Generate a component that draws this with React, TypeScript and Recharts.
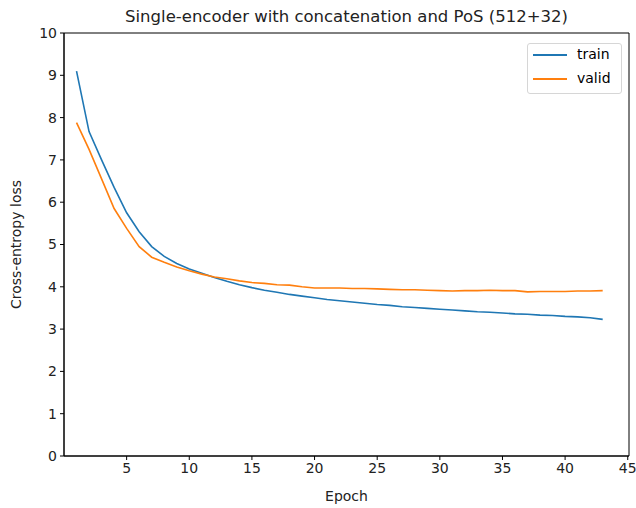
import React from "react";
import { LineChart, Line, XAxis, YAxis, ReferenceArea } from "recharts";

const epochs = Array.from({ length: 43 }, (_, i) => i + 1);
const trainLoss = [
  9.1, 7.67, 7.0, 6.35, 5.75, 5.3, 4.95, 4.72, 4.55, 4.42,
  4.32, 4.22, 4.13, 4.05, 3.98, 3.92, 3.87, 3.82, 3.78, 3.74,
  3.7, 3.67, 3.64, 3.61, 3.58, 3.56, 3.53, 3.51, 3.49, 3.47,
  3.45, 3.43, 3.41, 3.4, 3.38, 3.36, 3.35, 3.33, 3.32, 3.3,
  3.29, 3.27, 3.23,
];
const validLoss = [
  7.88, 7.25, 6.55, 5.85, 5.38, 4.95, 4.7, 4.58, 4.47, 4.38,
  4.3, 4.23, 4.19, 4.14, 4.1, 4.08, 4.05, 4.04, 4.0, 3.97,
  3.97, 3.97, 3.96, 3.96, 3.95, 3.94, 3.93, 3.93, 3.92, 3.91,
  3.9, 3.91, 3.91, 3.92, 3.91, 3.91, 3.88, 3.89, 3.89, 3.89,
  3.9, 3.9, 3.91,
];
const xTicks = [5, 10, 15, 20, 25, 30, 35, 40, 45];
const yTicks = [0, 1, 2, 3, 4, 5, 6, 7, 8, 9, 10];
const seriesNames = ["train", "valid"];
const seriesColors = ["#1f77b4", "#ff7f0e"];

const data = epochs.map((e, i) => ({ epoch: e, train: trainLoss[i], valid: validLoss[i] }));

const FONT = "'DejaVu Sans', sans-serif";
const X_MAX = 45.1;

const LegendBox = () => (
  <div
    style={{
      position: "absolute",
      left: 527,
      top: 43,
      width: 95,
      height: 51,
      border: "1px solid #d6d6d6",
      borderRadius: 3,
      background: "rgba(255,255,255,0.8)",
      fontFamily: FONT,
      fontSize: 14,
      color: "#000",
      boxSizing: "border-box",
    }}
  >
    {seriesNames.map((name, i) => {
      const top = i === 0 ? 11 : 35;
      return (
        <div key={name}>
          <div
            style={{
              position: "absolute",
              left: 5,
              top: top - 1,
              width: 34,
              height: 2,
              background: seriesColors[i],
            }}
          />
          <div style={{ position: "absolute", left: 49, top: top - 10, lineHeight: "18px" }}>{name}</div>
        </div>
      );
    })}
  </div>
);

export default function App() {
  return (
    <div style={{ position: "absolute", left: 0, top: 0, width: 636, height: 508, background: "#fff" }}>
      <LineChart
        width={636}
        height={508}
        data={data}
        margin={{ top: 33, right: 7, left: 0, bottom: 0 }}
      >
        <ReferenceArea
          x1={0}
          x2={X_MAX}
          y1={0}
          y2={10}
          fill="none"
          fillOpacity={0}
          stroke="#000"
          strokeWidth={1}
          ifOverflow="visible"
        />
        <XAxis
          dataKey="epoch"
          type="number"
          domain={[0, X_MAX]}
          ticks={xTicks}
          allowDataOverflow
          height={52}
          stroke="#000"
          tickLine={{ stroke: "#000" }}
          tickSize={4}
          tick={{ fill: "#222", fontSize: 14, fontFamily: FONT }}
          tickMargin={3}
          label={{ value: "Epoch", position: "insideBottom", offset: 7, fill: "#222", fontSize: 14, fontFamily: FONT }}
        />
        <YAxis
          type="number"
          domain={[0, 10]}
          ticks={yTicks}
          width={64}
          stroke="#000"
          tickLine={{ stroke: "#000" }}
          tickSize={4}
          tick={{ fill: "#222", fontSize: 14, fontFamily: FONT }}
          tickMargin={3}
          label={{
            value: "Cross-entropy loss",
            angle: -90,
            position: "insideLeft",
            offset: 16,
            style: { textAnchor: "middle" },
            fill: "#222",
            fontSize: 14,
            fontFamily: FONT,
          }}
        />
        <Line
          dataKey="train"
          stroke={seriesColors[0]}
          strokeWidth={1.6}
          dot={false}
          isAnimationActive={false}
        />
        <Line
          dataKey="valid"
          stroke={seriesColors[1]}
          strokeWidth={1.6}
          dot={false}
          isAnimationActive={false}
        />
        <text
          x={346.5}
          y={22}
          textAnchor="middle"
          fontSize={16.5}
          fontFamily={FONT}
          fill="#222"
        >
          Single-encoder with concatenation and PoS (512+32)
        </text>
      </LineChart>
      <LegendBox />
    </div>
  );
}
